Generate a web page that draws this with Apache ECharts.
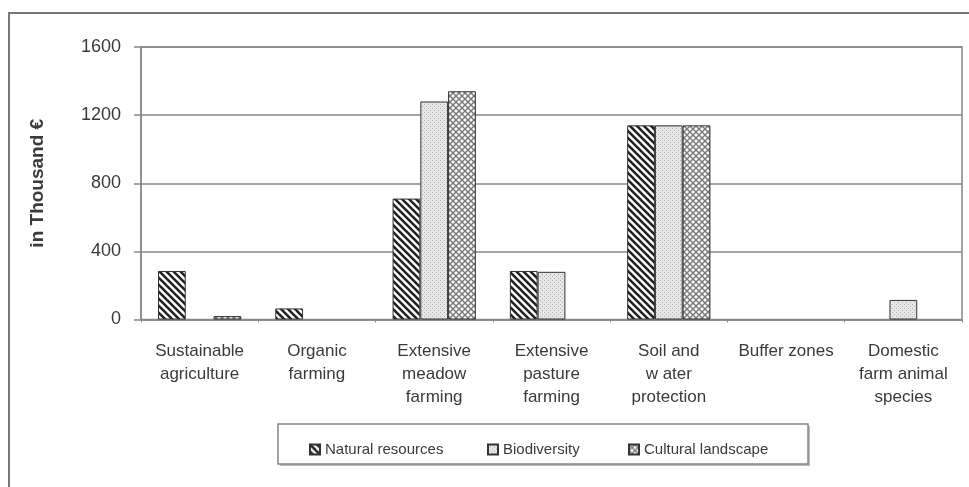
<!DOCTYPE html>
<html><head><meta charset="utf-8">
<script src="https://cdn.jsdelivr.net/npm/echarts@6/dist/echarts.min.js"></script>
<style>html,body{margin:0;padding:0;background:#fff}#c{width:969px;height:487px}</style>
</head><body><div id="c"></div>
<script>
const categories = ['Sustainable\nagriculture','Organic\nfarming','Extensive\nmeadow\nfarming','Extensive\npasture\nfarming','Soil and\nw ater\nprotection','Buffer zones','Domestic\nfarm animal\nspecies'];
const naturalResources = [285, 65, 710, 285, 1140, 0, 0];
const biodiversity = [0, 0, 1280, 280, 1140, 0, 115];
const culturalLandscape = [20, 0, 1340, 0, 1140, 0, 0];
const yTicks = [0, 400, 800, 1200, 1600];

function tile(w, h, draw) {
  const c = document.createElement('canvas'); c.width = w; c.height = h;
  const ctx = c.getContext('2d'); draw(ctx, w, h); return c;
}
const stripePat = tile(7, 7, (ctx, w, h) => {
  ctx.fillStyle = '#fff'; ctx.fillRect(0, 0, w, h);
  ctx.strokeStyle = '#222'; ctx.lineWidth = 2.6;
  for (let k = -1; k <= 1; k++) { ctx.beginPath(); ctx.moveTo(k * w - 2, -2); ctx.lineTo(k * w + h + 2, h + 2); ctx.stroke(); }
});
const dotPat = tile(4, 4, (ctx, w, h) => {
  ctx.fillStyle = '#e6e6e6'; ctx.fillRect(0, 0, w, h);
  ctx.fillStyle = '#b0b0b0'; ctx.fillRect(0, 0, 1, 1); ctx.fillRect(2, 2, 1, 1);
});
const crossPat = tile(6, 6, (ctx, w, h) => {
  ctx.fillStyle = '#fbfbfb'; ctx.fillRect(0, 0, w, h);
  ctx.strokeStyle = '#7a7a7a'; ctx.lineWidth = 1.4;
  for (let k = -1; k <= 1; k++) {
    ctx.beginPath(); ctx.moveTo(k * w - 2, -2); ctx.lineTo(k * w + h + 2, h + 2); ctx.stroke();
    ctx.beginPath(); ctx.moveTo(k * w + w + 2, -2); ctx.lineTo(k * w - 2, h + 2); ctx.stroke();
  }
});

const chart = echarts.init(document.getElementById('c'), null, {renderer: 'canvas'});
const txt = '#3a3a3a';
function mkSeries(name, data, pat) {
  return {name, type: 'bar', data: data.map(v => v === 0 ? null : v), barGap: '0%', barCategoryGap: '29%',
    itemStyle: {color: {image: pat, repeat: 'repeat'}, borderColor: '#333', borderWidth: 1},
    emphasis: {disabled: true}};
}
function mkLegend(name, left) {
  return {data: [name], left, top: 437, itemWidth: 10, itemHeight: 10, icon: 'rect',
    textStyle: {fontFamily: 'Liberation Sans', fontSize: 15, color: txt}, selectedMode: false};
}
chart.setOption({
  animation: false,
  backgroundColor: '#fff',
  grid: {left: 141, right: 7, top: 47, bottom: 167.5, show: true, borderColor: '#888', borderWidth: 1.5},
  xAxis: {type: 'category', data: categories,
    axisLine: {lineStyle: {color: '#888', width: 1.5}},
    axisTick: {show: true, length: 3, lineStyle: {color: '#888'}},
    axisLabel: {interval: 0, margin: 20, lineHeight: 23, fontFamily: 'Liberation Sans', fontSize: 17, color: txt, align: 'center'}},
  yAxis: {type: 'value', min: 0, max: 1600, interval: 400,
    name: 'in Thousand €', nameLocation: 'middle', nameGap: 94, nameRotate: 90,
    nameTextStyle: {fontFamily: 'Liberation Sans', fontSize: 19, fontWeight: 'bold', color: txt},
    axisLine: {show: true, lineStyle: {color: '#888', width: 1.5}},
    axisTick: {show: true, length: 7, lineStyle: {color: '#888', width: 1.5}},
    axisLabel: {margin: 20, fontFamily: 'Liberation Sans', fontSize: 18, color: txt,
      formatter: v => yTicks.includes(v) ? String(v) : ''},
    splitLine: {lineStyle: {color: '#888', width: 1.5}}},
  legend: [mkLegend('Natural resources', 304), mkLegend('Biodiversity', 482), mkLegend('Cultural landscape', 623)],
  graphic: [
    {type: 'polyline', shape: {points: [[9, 487], [9, 13], [969, 13]]}, style: {stroke: '#777', lineWidth: 2, fill: null}, silent: true},
    {type: 'rect', shape: {x: 280, y: 426, width: 530, height: 40}, style: {fill: '#bbb'}, silent: true, z: -1},
    {type: 'rect', shape: {x: 278, y: 424, width: 530, height: 40}, style: {fill: '#fff', stroke: '#888', lineWidth: 1.5}, silent: true, z: 0}
  ],
  series: [
    mkSeries('Natural resources', naturalResources, stripePat),
    mkSeries('Biodiversity', biodiversity, dotPat),
    mkSeries('Cultural landscape', culturalLandscape, crossPat)
  ]
});
</script></body></html>
